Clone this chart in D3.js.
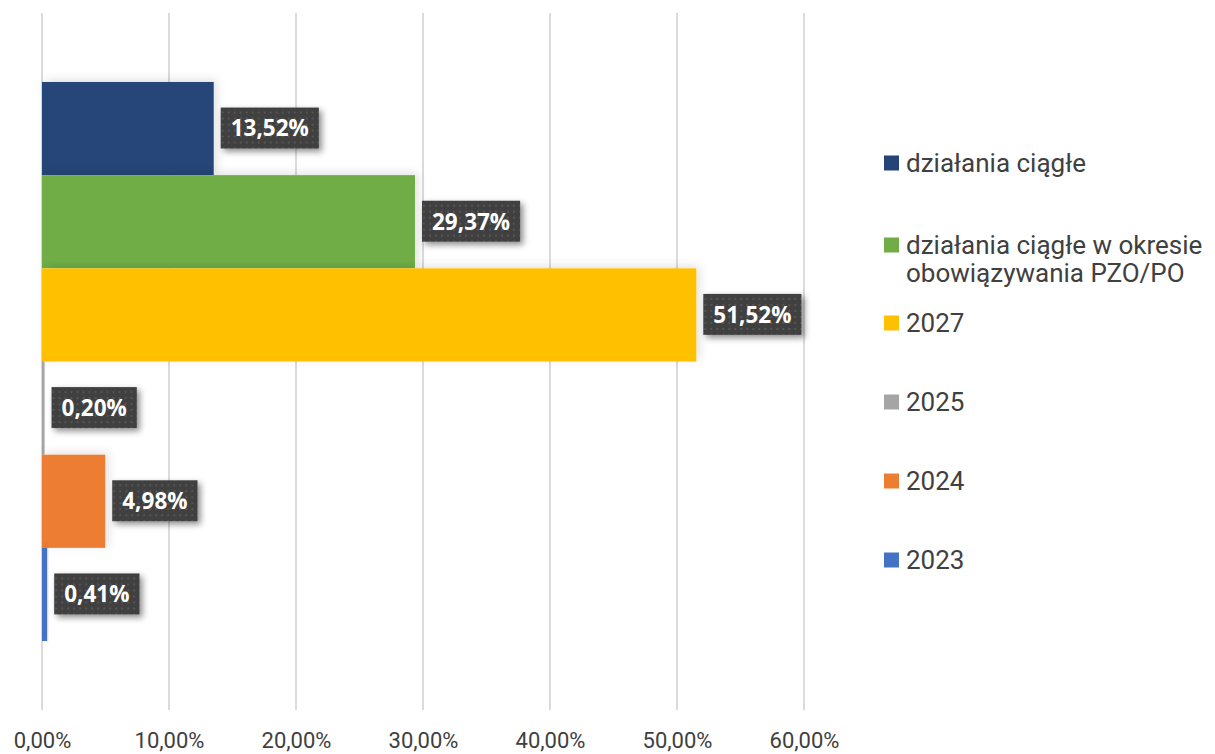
<!DOCTYPE html>
<html><head><meta charset="utf-8">
<script src="https://cdn.jsdelivr.net/npm/d3@7"></script>
<style>
html,body{margin:0;padding:0;background:#fff;}
svg{display:block;}
</style></head>
<body>
<svg id="c" width="1215" height="754"></svg>
<script>
const series = ["działania ciągłe", "działania ciągłe w okresie obowiązywania PZO/PO", "2027", "2025", "2024", "2023"];
const legendLines = [["działania ciągłe"], ["działania ciągłe w okresie", "obowiązywania PZO/PO"], ["2027"], ["2025"], ["2024"], ["2023"]];
const values = [13.52, 29.37, 51.52, 0.20, 4.98, 0.41];
const colors = ["#264478", "#70AD47", "#FFC000", "#A5A5A5", "#ED7D31", "#4472C4"];
const ticks = [0, 10, 20, 30, 40, 50, 60];

const svg = d3.select("#c");
const defs = svg.append("defs");
const pat = defs.append("pattern").attr("id","dots").attr("width",6).attr("height",6).attr("patternUnits","userSpaceOnUse");
pat.append("rect").attr("width",6).attr("height",6).attr("fill","#404040");
pat.append("rect").attr("x",1).attr("y",1).attr("width",2).attr("height",2).attr("fill","#555555");
const f = defs.append("filter").attr("id","sh").attr("x","-20%").attr("y","-30%").attr("width","150%").attr("height","180%");
f.append("feDropShadow").attr("dx",3).attr("dy",3).attr("stdDeviation",3).attr("flood-color","#000").attr("flood-opacity",0.45);
const fb = defs.append("filter").attr("id","bsh").attr("x","-10%").attr("y","-10%").attr("width","130%").attr("height","130%");
fb.append("feDropShadow").attr("dx",3).attr("dy",-2).attr("stdDeviation",5).attr("flood-color","#000").attr("flood-opacity",0.12);

const x = d3.scaleLinear().domain([0, 60]).range([42, 804]);
const y = d3.scaleBand().domain(series).range([13, 710]).paddingInner(0).paddingOuter(0.74);

// gridlines
svg.append("g").selectAll("line").data(ticks).join("line")
  .attr("x1", d => x(d)).attr("x2", d => x(d))
  .attr("y1", 13).attr("y2", 710)
  .attr("stroke", "#c8c8c8").attr("stroke-width", 1.3);

// axis labels
const ax = svg.append("g").attr("transform", "translate(0,710)")
  .call(d3.axisBottom(x).tickValues(ticks).tickSize(0).tickPadding(22)
    .tickFormat(d => d.toFixed(2).replace(".", ",") + "%"));
ax.select(".domain").remove();
ax.selectAll("text").attr("font-family", "Roboto").attr("font-size", 22).attr("fill", "#404040");

// bars
svg.append("g").selectAll("rect").data(series).join("rect")
  .attr("x", x(0)).attr("y", d => y(d))
  .attr("width", (d, i) => x(values[i]) - x(0))
  .attr("height", y.bandwidth())
  .attr("fill", (d, i) => colors[i])
  .attr("filter", "url(#bsh)");

// labels
const lg = svg.append("g").selectAll("g").data(series).join("g")
  .attr("transform", (d, i) => `translate(${x(values[i]) + 7},${y(d) + y.bandwidth() / 2})`);
lg.each(function(d, i) {
  const g = d3.select(this);
  const txt = values[i].toFixed(2).replace(".", ",") + "%";
  const t = g.append("text").attr("x", 10).attr("y", 0).attr("dy", "0.35em")
    .attr("font-family", "Open Sans").attr("font-weight", "bold").attr("font-size", 22.5)
    .attr("fill", "#fff").text(txt);
  const w = t.node().getComputedTextLength();
  g.insert("rect", "text").attr("x", 0).attr("y", -21).attr("width", w + 20).attr("height", 41)
    .attr("fill", "url(#dots)").attr("filter", "url(#sh)");
});

// legend
const legY = [163, 245, 323, 402, 481, 560];
const leg = svg.append("g").selectAll("g").data(series).join("g")
  .attr("transform", (d, i) => `translate(884,${legY[i]})`);
leg.append("rect").attr("x", 0).attr("y", -7.5).attr("width", 15).attr("height", 15)
  .attr("fill", (d, i) => colors[i]);
leg.each(function(d, i) {
  const t = d3.select(this).append("text").attr("font-family", "Roboto").attr("font-size", 26).attr("fill", "#404040");
  legendLines[i].forEach((l, k) => {
    t.append("tspan").attr("x", 22).attr("y", k * 28).attr("dy", "0.35em").text(l);
  });
});
</script>
</body></html>
